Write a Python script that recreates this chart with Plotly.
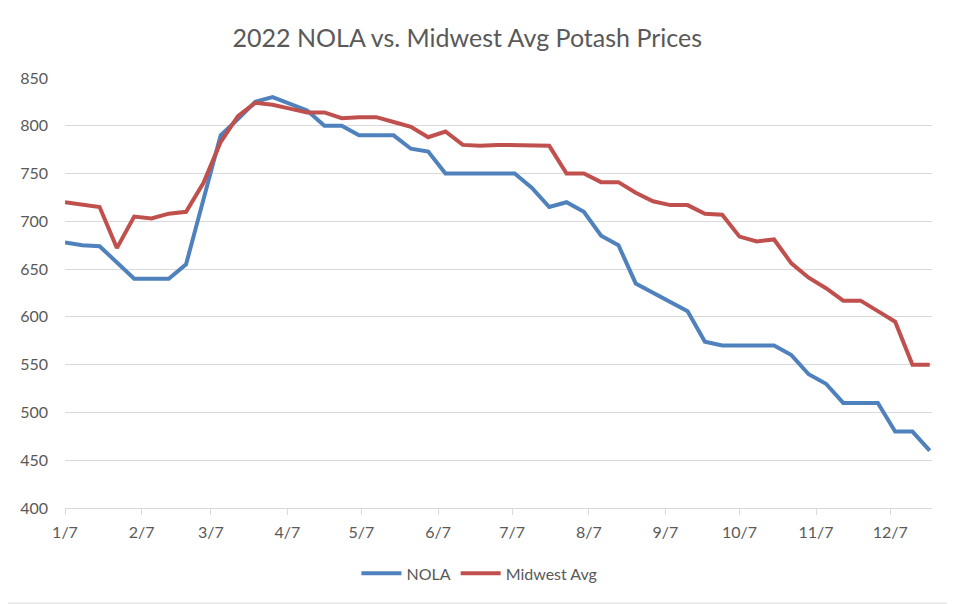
import pandas as pd
import plotly.graph_objects as go

# weekly price dates (Fridays), 1/7/2022 .. 12/23/2022
dates = pd.date_range('2022-01-07', '2022-12-23', freq='7D')

nola = [678, 675, 674, 657, 640, 640, 640, 655, 722, 790,
        807, 825, 830, 823, 816, 800, 800, 790, 790, 790,
        776, 773, 750, 750, 750, 750, 750, 735, 715, 720,
        710, 685, 675, 635, 625, 615, 606, 574, 570, 570,
        570, 570, 560, 540, 530, 510, 510, 510, 480, 480,
        460]
midwest = [720, 718, 715, 672, 705, 703, 708, 710, 740, 783,
           810, 824, 822, 818, 814, 814, 808, 809, 809, 804,
           799, 788, 794, 780, 779, 780, 780, 780, 779, 750,
           750, 741, 741, 730, 721, 717, 717, 708, 707, 684,
           679, 681, 656, 641, 630, 617, 617, 606, 595, 550,
           550]

tick_dates = ['2022-%02d-07' % m for m in range(1, 13)]
tick_labels = ['%d/7' % m for m in range(1, 13)]

font_family = 'Lato, Calibri, sans-serif'
text_color = '#595959'
grid_color = '#d9d9d9'

fig = go.Figure()
fig.add_trace(go.Scatter(x=dates, y=nola, mode='lines', name='NOLA',
                         line=dict(color='#4f81bd', width=4)))
fig.add_trace(go.Scatter(x=dates, y=midwest, mode='lines', name='Midwest Avg',
                         line=dict(color='#c0504d', width=4)))

# page body has an 8px margin, so the figure is a bit smaller than the window
fig.update_layout(
    width=947, height=596,
    margin=dict(l=53, r=23, t=70, b=96),
    paper_bgcolor='white',
    plot_bgcolor='white',
    title=dict(text='2022 NOLA vs. Midwest Avg Potash Prices',
               x=0.485, xanchor='center', y=1 - 30 / 596, yanchor='middle',
               yref='container',
               font=dict(family=font_family, size=25, color=text_color)),
    legend=dict(orientation='h', x=0.478, xanchor='center',
                y=-0.152, yanchor='middle', itemwidth=40,
                font=dict(family=font_family, size=16, color=text_color)),
    showlegend=True,
)

fig.update_xaxes(
    range=['2022-01-07', '2022-12-23 22:00'],
    tickvals=tick_dates,
    ticktext=tick_labels,
    showgrid=False,
    showline=True,
    linecolor=grid_color,
    linewidth=1,
    ticks='outside',
    ticklen=6,
    tickcolor=grid_color,
    ticklabelstandoff=4,
    tickfont=dict(family=font_family, size=16, color=text_color),
)
fig.update_yaxes(
    range=[400, 850],
    dtick=50,
    showgrid=True,
    gridcolor=grid_color,
    gridwidth=1,
    zeroline=False,
    showline=False,
    ticks='',
    ticklabelstandoff=16,
    tickfont=dict(family=font_family, size=16, color=text_color),
)

# right and bottom edges of the light chart frame
fig.add_shape(type='line', xref='paper', yref='paper',
              x0=1.0253, x1=1.0253, y0=-0.2213, y1=1.2,
              line=dict(color=grid_color, width=1), layer='below')
fig.add_shape(type='line', xref='paper', yref='paper',
              x0=-0.07, x1=1.0253, y0=-0.2213, y1=-0.2213,
              line=dict(color=grid_color, width=1), layer='below')

fig.write_html('out.html')
